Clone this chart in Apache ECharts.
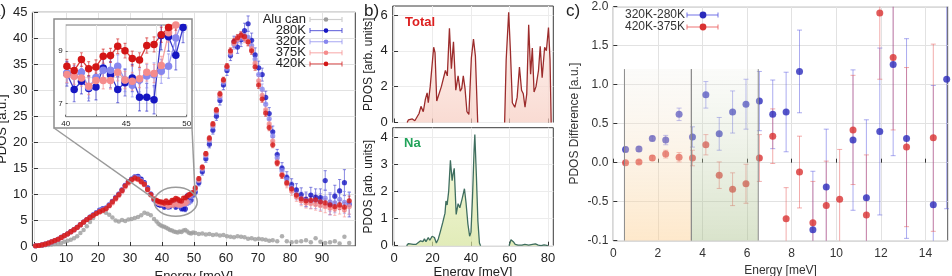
<!DOCTYPE html>
<html><head><meta charset="utf-8">
<script src="https://cdn.jsdelivr.net/npm/echarts@6/dist/echarts.min.js"></script>
<style>html,body{margin:0;padding:0;background:#fff}#c{width:952px;height:276px}</style>
</head><body><div id="c"></div>
<script>
// ---------------- Panel a data ----------------
const energyA = [
0.5,1.5,2.5,3.5,4.5,5.5,6.5,7.5,8.5,9.5,10.5,11.5,12.5,13.5,14.5,15.5,16.5,17.5,18.5,19.5,
20.5,21.5,22.5,23.5,24.5,25.5,26.5,27.5,28.5,29.5,30.5,31.5,32.5,33.5,34.5,35.5,36.5,37.5,
38.3,38.9,39.5,40.1,40.7,41.3,41.9,42.5,43.1,43.7,44.3,44.9,45.5,46.1,46.7,47.3,47.9,48.5,49.1,49.7,
50.4,51.5,52.6,53.7,54.8,55.9,57.0,58.1,59.2,60.3,61.4,62.5,63.6,64.7,65.8,66.9,68.0,69.1,70.2,71.3,72.4,73.5,74.6,
76.0,77.5,79.0,80.5,82.0,83.5,85.0,86.5,88.0,89.5,91.0,92.5,94.0,95.5,97.0,98.5];
const aluCan = [
0.05,0.05,0.1,0.15,0.2,0.3,0.4,0.5,0.6,0.8,1.0,1.2,1.5,1.9,2.5,3.1,3.8,4.6,5.4,6.2,
6.8,6.7,6.4,6.0,5.5,4.9,4.7,5.0,4.8,5.1,5.2,5.4,5.6,5.9,6.4,6.2,5.9,5.2,
4.7,4.3,4.0,3.8,3.7,3.5,3.3,3.1,3.0,2.8,2.7,2.6,2.8,2.7,3.0,3.1,2.8,2.5,2.4,2.6,
2.5,2.3,2.4,2.2,2.3,2.1,2.2,2.0,2.1,1.9,1.8,1.7,1.9,1.8,1.7,1.4,1.5,1.3,1.4,1.3,1.2,1.0,1.1,
0.9,1.9,0.9,0.7,0.8,0.9,1.1,0.7,1.5,0.8,0.6,0.7,0.9,0.5,1.8,0.6];
const pdos280K = [
0.05,0.1,0.2,0.35,0.55,0.8,1.05,1.3,1.65,2.0,2.35,2.75,3.15,3.6,4.1,4.6,5.1,5.55,6.0,6.45,
6.9,7.2,7.3,7.9,8.6,9.3,10.0,10.8,11.7,12.4,12.9,13.3,13.4,12.9,12.2,11.2,10.0,8.9,
8.2,8.0,7.9,8.14,7.54,7.85,7.58,7.63,8.36,8.1,7.54,7.8,7.98,7.24,7.24,7.15,9.6,9.55,8.85,9.9,
10.4,12.2,14.3,16.8,19.6,22.3,25.0,28.0,31.0,33.8,36.7,39.3,38.3,39.7,41.5,42.8,39.6,36.8,34.3,33.0,28.6,25.5,22.0,
17.6,15.0,13.2,11.8,10.8,9.9,9.0,9.8,9.4,9.3,12.6,8.0,9.6,10.6,12.2,8.0];
const err280K = [
0.1,0.1,0.1,0.1,0.1,0.1,0.1,0.12,0.12,0.12,0.14,0.14,0.15,0.15,0.16,0.17,0.18,0.19,0.2,0.2,
0.21,0.22,0.22,0.23,0.24,0.25,0.26,0.27,0.28,0.28,0.29,0.3,0.3,0.3,0.31,0.32,0.33,0.34,
0.45,0.45,0.46,0.47,0.47,0.48,0.48,0.49,0.5,0.5,0.5,0.51,0.52,0.52,0.53,0.54,0.55,0.55,0.56,0.57,
0.6,0.62,0.65,0.68,0.7,0.75,0.8,0.85,0.9,0.95,1.0,1.1,1.2,1.3,1.4,1.5,1.4,1.35,1.3,1.25,1.2,1.15,1.1,
1.0,1.05,1.1,1.15,1.2,1.3,1.4,1.5,1.6,1.7,1.9,2.0,2.1,2.2,2.5,2.4];
const pdos320K = [
0.05,0.1,0.2,0.35,0.55,0.8,1.05,1.3,1.65,2.0,2.35,2.75,3.15,3.6,4.1,4.6,5.1,5.55,6.0,6.45,
6.8,7.1,7.35,7.9,8.6,9.3,10.0,10.8,11.7,12.4,12.9,13.3,13.2,12.6,12.0,11.0,10.0,9.0,
8.4,8.2,8.15,8.17,8.05,8.2,7.62,8.0,8.27,8.27,8.43,7.9,7.7,7.9,8.05,8.1,8.23,8.43,9.5,10.2,
10.9,12.6,14.8,17.4,20.3,23.0,25.7,28.6,31.5,34.2,37.0,38.8,39.6,40.0,40.5,40.2,38.6,36.0,33.0,30.2,27.3,24.5,21.2,
17.0,14.5,12.8,11.3,10.0,9.2,8.8,8.6,8.7,8.5,9.2,8.5,8.3,9.0,8.4,8.2];
const err320K = [
0.08,0.08,0.08,0.08,0.08,0.08,0.09,0.1,0.1,0.1,0.12,0.12,0.13,0.13,0.14,0.14,0.15,0.16,0.17,0.17,
0.18,0.19,0.19,0.2,0.2,0.21,0.22,0.23,0.24,0.24,0.25,0.25,0.26,0.26,0.27,0.27,0.28,0.29,
0.38,0.38,0.39,0.4,0.4,0.41,0.41,0.42,0.42,0.43,0.43,0.44,0.44,0.45,0.45,0.46,0.46,0.47,0.47,0.48,
0.5,0.52,0.55,0.58,0.6,0.63,0.67,0.7,0.75,0.8,0.85,0.9,1.0,1.05,1.1,1.2,1.15,1.1,1.05,1.0,1.0,0.95,0.95,
0.9,0.95,1.0,1.05,1.1,1.2,1.3,1.4,1.5,1.6,1.7,1.8,1.9,2.0,2.1,2.1];
const pdos375K = [
0.05,0.1,0.2,0.35,0.55,0.8,1.05,1.3,1.6,1.95,2.3,2.7,3.1,3.55,4.05,4.55,5.05,5.45,5.85,6.25,
6.55,6.85,7.15,7.7,8.3,9.0,9.7,10.5,11.4,12.1,12.6,12.95,12.8,12.3,11.8,10.8,9.8,9.0,
8.6,8.3,8.15,8.11,8.04,7.98,7.66,7.88,7.88,7.88,8.2,7.9,7.85,7.95,8.2,8.15,8.45,9.7,10.0,10.3,
11.0,12.7,15.0,17.6,20.5,23.3,26.0,29.0,31.8,34.5,37.3,39.0,39.8,40.4,40.0,39.4,38.0,35.2,31.8,29.0,26.2,23.5,20.2,
16.2,13.8,12.0,10.6,9.5,8.7,8.3,8.2,8.0,7.8,7.6,7.3,7.2,7.5,7.0,7.6];
const err375K = [
0.06,0.06,0.06,0.06,0.06,0.06,0.07,0.07,0.08,0.08,0.09,0.09,0.1,0.1,0.11,0.11,0.12,0.12,0.13,0.13,
0.14,0.14,0.15,0.15,0.16,0.16,0.17,0.17,0.18,0.18,0.19,0.19,0.2,0.2,0.21,0.21,0.22,0.22,
0.3,0.3,0.3,0.31,0.31,0.31,0.32,0.32,0.32,0.33,0.33,0.33,0.34,0.34,0.34,0.35,0.35,0.35,0.36,0.36,
0.4,0.42,0.44,0.46,0.48,0.5,0.53,0.56,0.6,0.63,0.67,0.7,0.75,0.8,0.85,0.9,0.88,0.85,0.82,0.8,0.78,0.76,0.74,
0.72,0.75,0.8,0.85,0.9,0.95,1.0,1.05,1.1,1.15,1.2,1.25,1.3,1.35,1.4,1.45];
const pdos420K = [
0.05,0.1,0.2,0.35,0.55,0.8,1.05,1.3,1.65,2.0,2.35,2.75,3.15,3.6,4.1,4.6,5.1,5.5,5.9,6.3,
6.6,6.9,7.2,7.8,8.5,9.2,9.9,10.7,11.6,12.3,12.8,13.1,12.9,12.4,11.9,10.9,9.9,9.1,
8.8,8.6,8.5,8.43,8.26,8.68,8.33,8.40,8.81,8.84,9.19,9.02,8.72,8.66,9.22,9.26,9.63,9.9,10.1,10.3,
11.2,13.0,15.2,17.8,20.8,23.5,26.2,29.3,32.0,34.6,37.6,39.4,40.1,40.6,40.3,39.3,37.6,34.5,31.0,28.3,25.6,22.8,19.5,
16.0,13.6,12.2,11.0,9.8,9.1,8.7,8.8,8.9,8.5,8.3,7.9,7.6,7.9,7.5,8.7];
const err420K = [
0.05,0.05,0.05,0.05,0.05,0.05,0.06,0.06,0.06,0.07,0.07,0.08,0.08,0.08,0.09,0.09,0.1,0.1,0.1,0.11,
0.11,0.12,0.12,0.12,0.13,0.13,0.14,0.14,0.15,0.15,0.16,0.16,0.16,0.17,0.17,0.18,0.18,0.19,
0.25,0.25,0.25,0.26,0.26,0.26,0.27,0.27,0.27,0.27,0.28,0.28,0.28,0.28,0.29,0.29,0.29,0.3,0.3,0.3,
0.33,0.35,0.37,0.39,0.41,0.43,0.45,0.48,0.5,0.53,0.56,0.6,0.63,0.66,0.7,0.72,0.7,0.68,0.66,0.64,0.62,0.6,0.58,
0.57,0.58,0.6,0.62,0.65,0.68,0.7,0.72,0.75,0.78,0.8,0.82,0.85,0.88,0.9,0.92];
const ticksA = [0,10,20,30,40,50,60,70,80,90];
const zoomCenter = [44.3, 8.5];   // circled region shown in the inset

// ---------------- Panel b data ----------------
const totalE = [6.8,7.5,8.3,9.5,10.8,11.8,13.0,14.0,15.2,16.3,17.2,17.8,18.8,19.6,20.6,21.3,22.2,23.2,24.6,25.5,
26.7,27.7,28.8,29.8,30.9,32.1,33.3,34.4,35.2,36.0,36.9,37.9,38.9,40.2,41.3,42.3,43.5,null,
57.5,58.3,59.6,60.5,61.5,62.8,64.0,65.2,66.3,67.2,68.1,69.0,70.0,71.0,71.9,72.8,73.8,75.1,76.0,77.0,
78.3,79.2,80.3,81.1,81.7];
const totalV = [0,0.15,0.25,0.2,0.1,0.2,0.5,0.9,0.6,1.3,1.65,1.1,2.0,2.1,4.2,3.9,1.2,1.3,2.0,1.9,
2.9,2.6,5.25,3.0,4.5,1.8,2.6,1.75,1.9,2.6,1.9,0.6,0.45,3.6,4.65,3.7,0,null,
0,3.5,6.15,4.0,1.1,0.85,1.4,3.1,1.8,1.6,0.85,1.6,5.45,2.7,4.15,1.7,2.0,2.9,4.25,2.5,
4.2,4.0,5.3,3.5,0];
const naE = [6.5,7.5,8.5,10,11.5,12.5,13.8,15,15.8,16.6,17.8,18.6,19.8,21.0,22.0,23.0,24.0,25.3,26.5,27.0,
27.6,28.4,29.3,30.2,30.6,31.3,31.8,32.3,33.3,34.2,35.3,36.6,37.4,38.4,39.3,40.0,40.8,41.6,42.0,42.8,
43.6,44.4,45.0,null,59.8,60.8,62.0,63.0,64.5,66.5,68.0,70,72.0,73.5,75,76.5,78,80];
const naV = [0,0.08,0.05,0.05,0.05,0.1,0.18,0.15,0.25,0.15,0.3,0.2,0.35,0.3,0.1,0.25,0.5,0.85,1.2,1.65,
1.5,2.0,3.15,2.4,2.6,2.85,2.0,1.15,1.55,1.4,1.7,2.1,1.6,0.8,0.35,0.5,1.8,3.5,4.1,2.6,
0.9,0.1,0,null,0,0.22,0.15,0.05,0.02,0.02,0.05,0.02,0.05,0.07,0.02,0,0.03,0];
const ticksB = [0,20,40,60,80];

// ---------------- Panel c data ----------------
const energyC = [0.55,1.15,1.75,2.35,2.95,3.55,4.15,4.75,5.35,5.95,6.55,7.15,7.75,8.35,8.95,9.55,10.15,10.75,11.35,11.95,12.55,13.15,13.75,14.35,14.95];
const diff320_280 = [0.17,0.175,0.31,0.29,0.62,0.33,0.87,0.37,0.65,0.75,0.79,0.62,0.65,1.17,-0.86,-0.31,null,0.29,-0.45,0.40,1.26,0.31,null,-0.54,1.07];
const errD320_280 = [0.03,0.03,0.03,0.06,0.08,0.13,0.17,0.21,0.27,0.32,0.38,0.44,0.51,0.53,0.75,0.74,null,0.9,1.0,1.07,1.17,1.28,null,1.53,1.66];
const diff420_375 = [0.0,0.01,0.06,0.11,0.07,0.06,0.23,-0.16,-0.34,-0.27,0.06,0.34,-0.72,-0.12,-0.77,-0.55,-0.47,0.42,-0.67,1.92,1.35,0.20,null,0.32,null];
const errD420_375 = [0.01,0.02,0.03,0.05,0.06,0.1,0.13,0.17,0.21,0.25,0.30,0.35,0.40,0.46,0.53,0.57,0.64,0.70,0.77,0.85,0.93,1.02,null,1.2,null];
const bandStart = [0.5, 3.5];
const bandEnd = [3.5, 6.5];
const bandTop = 1.2;

// ---------------- build ----------------
const FONT = "'Liberation Sans', Arial, Helvetica, sans-serif";
const pairs = (xs, ys) => xs.map((x, i) => (x == null || ys[i] == null) ? null : [x, ys[i]]);
const triples = (xs, ys, es) => xs.map((x, i) => [x, ys[i], es[i]]).filter(d => d[1] != null && d[2] != null);

function errRender(cap, color, lw) {
  return function (params, api) {
    const x = api.value(0), y = api.value(1), e = api.value(2);
    const hi = api.coord([x, y + e]), lo = api.coord([x, y - e]);
    const s = {stroke: color, lineWidth: lw};
    return {type: 'group', children: [
      {type: 'line', shape: {x1: hi[0], y1: hi[1], x2: lo[0], y2: lo[1]}, style: s},
      {type: 'line', shape: {x1: hi[0] - cap, y1: hi[1], x2: hi[0] + cap, y2: hi[1]}, style: s},
      {type: 'line', shape: {x1: lo[0] - cap, y1: lo[1], x2: lo[0] + cap, y2: lo[1]}, style: s}
    ]};
  };
}

const COL = {
  alu: '#9c9c9c', k280: '#1616c2', k320: '#8787ee', k375: '#f58c8c', k420: '#d31616',
  e280: 'rgba(40,40,200,0.55)', e320: 'rgba(140,140,240,0.6)', e375: 'rgba(245,140,140,0.6)', e420: 'rgba(210,30,30,0.55)',
  aluL: '#cfcfcf'
};

const tempSets = [
  {name: '280K', v: pdos280K, e: err280K, c: COL.k280, ec: COL.e280},
  {name: '320K', v: pdos320K, e: err320K, c: COL.k320, ec: COL.e320},
  {name: '375K', v: pdos375K, e: err375K, c: COL.k375, ec: COL.e375},
  {name: '420K', v: pdos420K, e: err420K, c: COL.k420, ec: COL.e420}
];

function axBase(extra) {
  const o = {
    type: 'value',
    axisLine: {show: false},
    axisTick: {show: true, inside: true, length: 4, lineStyle: {color: '#333', width: 1}},
    axisLabel: {color: '#222', fontFamily: FONT, fontSize: 13},
    splitLine: {show: true, lineStyle: {color: '#e2e2e2', width: 1}},
    nameTextStyle: {fontFamily: FONT, color: '#222', fontSize: 13}
  };
  for (const k in extra) {
    if (typeof extra[k] === 'object' && !Array.isArray(extra[k]) && o[k]) o[k] = Object.assign({}, o[k], extra[k]);
    else o[k] = extra[k];
  }
  return o;
}

const series = [];
// main panel
series.push({type: 'scatter', xAxisIndex: 0, yAxisIndex: 0, data: pairs(energyA, aluCan), symbolSize: 4.5,
  itemStyle: {color: COL.alu}, z: 2, silent: true});
tempSets.forEach((t, i) => {
  series.push({type: 'custom', xAxisIndex: 0, yAxisIndex: 0, data: triples(energyA, t.v, t.e), clip: true,
    renderItem: errRender(1.6, t.ec, 1), z: 2, silent: true});
  series.push({type: 'scatter', name: t.name, xAxisIndex: 0, yAxisIndex: 0, data: pairs(energyA, t.v), symbolSize: 5.2,
    itemStyle: {color: t.c}, z: 3, silent: true});
});
// inset
tempSets.forEach((t, i) => {
  series.push({type: 'custom', xAxisIndex: 1, yAxisIndex: 1, data: triples(energyA, t.v, t.e), clip: true,
    renderItem: errRender(1.5, t.ec, 1.2), z: 5, silent: true});
  series.push({type: 'line', xAxisIndex: 1, yAxisIndex: 1, data: pairs(energyA, t.v), symbol: 'circle', symbolSize: 7.5,
    showSymbol: true, clip: true, itemStyle: {color: t.c}, lineStyle: {color: t.c, width: 1.3, opacity: 0.85}, z: 6, silent: true, animation: false});
});
// panel b
series.push({type: 'line', xAxisIndex: 2, yAxisIndex: 2, data: pairs(totalE, totalV), symbol: 'none', connectNulls: false,
  lineStyle: {color: '#9c2c2c', width: 1.3},
  areaStyle: {color: new echarts.graphic.LinearGradient(0, 0, 0, 1, [{offset: 0, color: '#fdf1ed'}, {offset: 1, color: '#f6cbbf'}])},
  z: 3, silent: true});
series.push({type: 'line', xAxisIndex: 3, yAxisIndex: 3, data: pairs(naE, naV), symbol: 'none', connectNulls: false,
  lineStyle: {color: '#3f6e5f', width: 1.3},
  areaStyle: {color: new echarts.graphic.LinearGradient(0, 0, 0, 1, [{offset: 0, color: '#f4f6d2'}, {offset: 1, color: '#d4e39a'}])},
  z: 3, silent: true});
// panel c
series.push({type: 'custom', xAxisIndex: 4, yAxisIndex: 4, data: triples(energyC, diff320_280, errD320_280), clip: true,
  renderItem: errRender(2.5, 'rgba(90,90,225,0.5)', 1), z: 2, silent: true});
series.push({type: 'custom', xAxisIndex: 4, yAxisIndex: 4, data: triples(energyC, diff420_375, errD420_375), clip: true,
  renderItem: errRender(2.5, 'rgba(232,90,90,0.5)', 1), z: 2, silent: true});
series.push({type: 'scatter', name: '320K-280K', xAxisIndex: 4, yAxisIndex: 4, data: pairs(energyC, diff320_280), symbolSize: 7,
  itemStyle: {color: '#2b2bbb'}, z: 3, silent: true});
series.push({type: 'scatter', name: '420K-375K', xAxisIndex: 4, yAxisIndex: 4, data: pairs(energyC, diff420_375), symbolSize: 7,
  itemStyle: {color: '#d93232'}, z: 3, silent: true});
const bandFills = [
  new echarts.graphic.LinearGradient(0, 0, 0, 1, [{offset: 0, color: 'rgba(240,238,232,0.25)'}, {offset: 1, color: 'rgba(253,205,140,0.45)'}]),
  new echarts.graphic.LinearGradient(0, 0, 0, 1, [{offset: 0, color: 'rgba(238,240,232,0.25)'}, {offset: 1, color: 'rgba(160,185,125,0.4)'}])
];
series.push({type: 'custom', xAxisIndex: 4, yAxisIndex: 4, data: bandStart.map((s, i) => [s, bandEnd[i], bandTop]), clip: true, z: 10, silent: true,
  renderItem: function (params, api) {
    const p0 = api.coord([api.value(0), api.value(2)]);
    const p1 = api.coord([api.value(1), -1]);
    const ls = {stroke: '#8a8a8a', lineWidth: 1};
    return {type: 'group', children: [
      {type: 'rect', shape: {x: p0[0], y: p0[1], width: p1[0] - p0[0], height: p1[1] - p0[1]}, style: {fill: bandFills[params.dataIndex]}},
      {type: 'line', shape: {x1: p0[0], y1: p0[1], x2: p0[0], y2: p1[1]}, style: ls},
      {type: 'line', shape: {x1: p1[0], y1: p0[1], x2: p1[0], y2: p1[1]}, style: ls}
    ]};
  }});

const grids = [
  {left: 32.4, top: 12.3, width: 322.9, height: 233.7},
  {left: 65.7, top: 25, width: 121, height: 91.7, z: 4},
  {left: 392.7, top: 6, width: 160.6, height: 116.5},
  {left: 392.7, top: 127.7, width: 160.6, height: 118},
  {left: 613.3, top: 6.7, width: 334.5, height: 234}
].map(g => Object.assign({show: true, borderColor: '#3a3a3a', borderWidth: 1, backgroundColor: 'transparent',
  containLabel: false, outerBoundsMode: 'none'}, g));
grids[1].borderColor = '#777';

const xAxes = [
  axBase({gridIndex: 0, min: -0.5, max: 100.4, axisLabel: {customValues: ticksA, margin: 6}, axisTick: {customValues: ticksA},
    name: 'Energy [meV]', nameLocation: 'middle', nameGap: 21}),
  axBase({gridIndex: 1, min: 40, max: 50, interval: 2.5, z: 4,
    axisLabel: {fontSize: 8, margin: 3, formatter: v => (v % 5 === 0 ? String(v) : '')},
    axisTick: {length: 2, lineStyle: {color: '#666'}}, splitLine: {lineStyle: {color: '#e4e4e4'}}}),
  axBase({gridIndex: 2, min: -0.7, max: 82.8, axisLabel: {show: false, customValues: ticksB}, axisTick: {customValues: ticksB},
    splitLine: {lineStyle: {color: '#ececec'}}}),
  axBase({gridIndex: 3, min: -0.7, max: 82.8, axisLabel: {customValues: ticksB, margin: 6}, axisTick: {customValues: ticksB},
    splitLine: {lineStyle: {color: '#ececec'}}, name: 'Energy [meV]', nameLocation: 'middle', nameGap: 19}),
  axBase({gridIndex: 4, min: 0, max: 15, interval: 2, axisLabel: {fontSize: 12, margin: 7, color: '#333', showMaxLabel: false},
    nameTextStyle: {fontSize: 12, color: '#333'}, name: 'Energy [meV]', nameLocation: 'middle', nameGap: 20})
];
const yAxes = [
  axBase({gridIndex: 0, min: 0, max: 45, interval: 5, axisLabel: {margin: 5},
    name: 'PDOS [a.u.]', nameLocation: 'middle', nameRotate: 90, nameGap: 17}),
  axBase({gridIndex: 1, min: 6.5, max: 10, z: 4, axisLabel: {fontSize: 8, margin: 3, customValues: [7, 9]},
    axisTick: {length: 2, customValues: [7, 8, 9], lineStyle: {color: '#666'}}, splitLine: {lineStyle: {color: '#e4e4e4'}}}),
  axBase({gridIndex: 2, min: 0, max: 6.5, axisLabel: {customValues: [0, 2, 4, 6], margin: 5}, axisTick: {customValues: [0, 2, 4, 6]},
    splitLine: {lineStyle: {color: '#ececec'}},
    name: 'PDOS [arb. units]', nameLocation: 'middle', nameRotate: 90, nameGap: 18, nameTextStyle: {fontSize: 12}}),
  axBase({gridIndex: 3, min: 0, max: 4.35, axisLabel: {customValues: [0, 1, 2, 3, 4], margin: 5}, axisTick: {customValues: [0, 1, 2, 3, 4]},
    splitLine: {lineStyle: {color: '#ececec'}},
    name: 'PDOS [arb. units]', nameLocation: 'middle', nameRotate: 90, nameGap: 18, nameTextStyle: {fontSize: 12}}),
  axBase({gridIndex: 4, min: -1, max: 2, interval: 0.5,
    axisLabel: {fontSize: 12, margin: 5, color: '#333', formatter: v => (v === -1 ? '-0.1' : v.toFixed(1))},
    nameTextStyle: {fontSize: 12, color: '#333'}, name: 'PDOS Difference [a.u.]', nameLocation: 'middle', nameRotate: 90, nameGap: 33})
];

const chart = echarts.init(document.getElementById('c'));
chart.setOption({animation: false, grid: grids, xAxis: xAxes, yAxis: yAxes, series: series});

// ---------------- annotations ----------------
const g = [];
function txt(x, y, s, o) {
  g.push({type: 'text', x: x, y: y, z: 20, style: Object.assign({text: s, fontFamily: FONT, fontSize: 13, fill: '#222'}, o || {})});
}
// inset frame (white box behind inset axes)
g.push({type: 'rect', z: 1, shape: {x: 54, y: 19, width: 138, height: 109}, style: {fill: '#fff', stroke: '#8c8c8c', lineWidth: 1.5}});
// zoom ellipse + connectors
const ctr = chart.convertToPixel({gridIndex: 0}, zoomCenter);
const rx = 21.5, ry = 14.5;
g.push({type: 'ellipse', z: 20, shape: {cx: ctr[0], cy: ctr[1], rx: rx, ry: ry}, style: {fill: 'none', stroke: '#9a9a9a', lineWidth: 1.5}});
g.push({type: 'line', z: 20, shape: {x1: 54, y1: 128, x2: ctr[0] - rx, y2: ctr[1] - 3}, style: {stroke: '#9a9a9a', lineWidth: 1.5}});
g.push({type: 'line', z: 20, shape: {x1: 192, y1: 128, x2: ctr[0] + rx * 0.9, y2: ctr[1] - ry * 0.45}, style: {stroke: '#9a9a9a', lineWidth: 1.5}});
// legend a
const legA = [
  {n: 'Alu can', c: COL.alu, l: COL.aluL},
  {n: '280K', c: COL.k280, l: 'rgba(60,60,210,0.7)'},
  {n: '320K', c: COL.k320, l: 'rgba(150,150,240,0.7)'},
  {n: '375K', c: COL.k375, l: 'rgba(245,150,150,0.7)'},
  {n: '420K', c: COL.k420, l: 'rgba(215,40,40,0.7)'}
];
legA.forEach((it, i) => {
  const y = 19.5 + i * 11.1;
  txt(306, y, it.n, {align: 'right', verticalAlign: 'middle'});
  const s = {stroke: it.l, lineWidth: 1.2};
  g.push({type: 'line', z: 20, shape: {x1: 310, y1: y, x2: 342, y2: y}, style: s});
  g.push({type: 'line', z: 20, shape: {x1: 310, y1: y - 2.5, x2: 310, y2: y + 2.5}, style: s});
  g.push({type: 'line', z: 20, shape: {x1: 342, y1: y - 2.5, x2: 342, y2: y + 2.5}, style: s});
  g.push({type: 'circle', z: 21, shape: {cx: 326, cy: y, r: 2.3}, style: {fill: it.c}});
});
// legend c
const legC = [
  {n: '320K-280K', c: '#2b2bbb', l: 'rgba(90,90,225,0.7)'},
  {n: '420K-375K', c: '#d93232', l: 'rgba(232,90,90,0.7)'}
];
legC.forEach((it, i) => {
  const y = 15 + i * 12;
  txt(625, y, it.n, {align: 'left', verticalAlign: 'middle', fontSize: 12, fill: '#333'});
  const s = {stroke: it.l, lineWidth: 1.2};
  g.push({type: 'line', z: 20, shape: {x1: 687, y1: y, x2: 718, y2: y}, style: s});
  g.push({type: 'line', z: 20, shape: {x1: 687, y1: y - 2.5, x2: 687, y2: y + 2.5}, style: s});
  g.push({type: 'line', z: 20, shape: {x1: 718, y1: y - 2.5, x2: 718, y2: y + 2.5}, style: s});
  g.push({type: 'circle', z: 21, shape: {cx: 703, cy: y, r: 3.4}, style: {fill: it.c}});
});
// panel labels
txt(-9, 3, 'a)', {fontSize: 17});
txt(364, 3, 'b)', {fontSize: 17});
txt(566, 3, 'c)', {fontSize: 17});
txt(405, 16, 'Total', {fontSize: 13, fontWeight: 'bold', fill: '#dd1f1f'});
txt(404, 137, 'Na', {fontSize: 13, fontWeight: 'bold', fill: '#22a35a'});

chart.setOption({graphic: {elements: g}});
</script>
</body></html>
